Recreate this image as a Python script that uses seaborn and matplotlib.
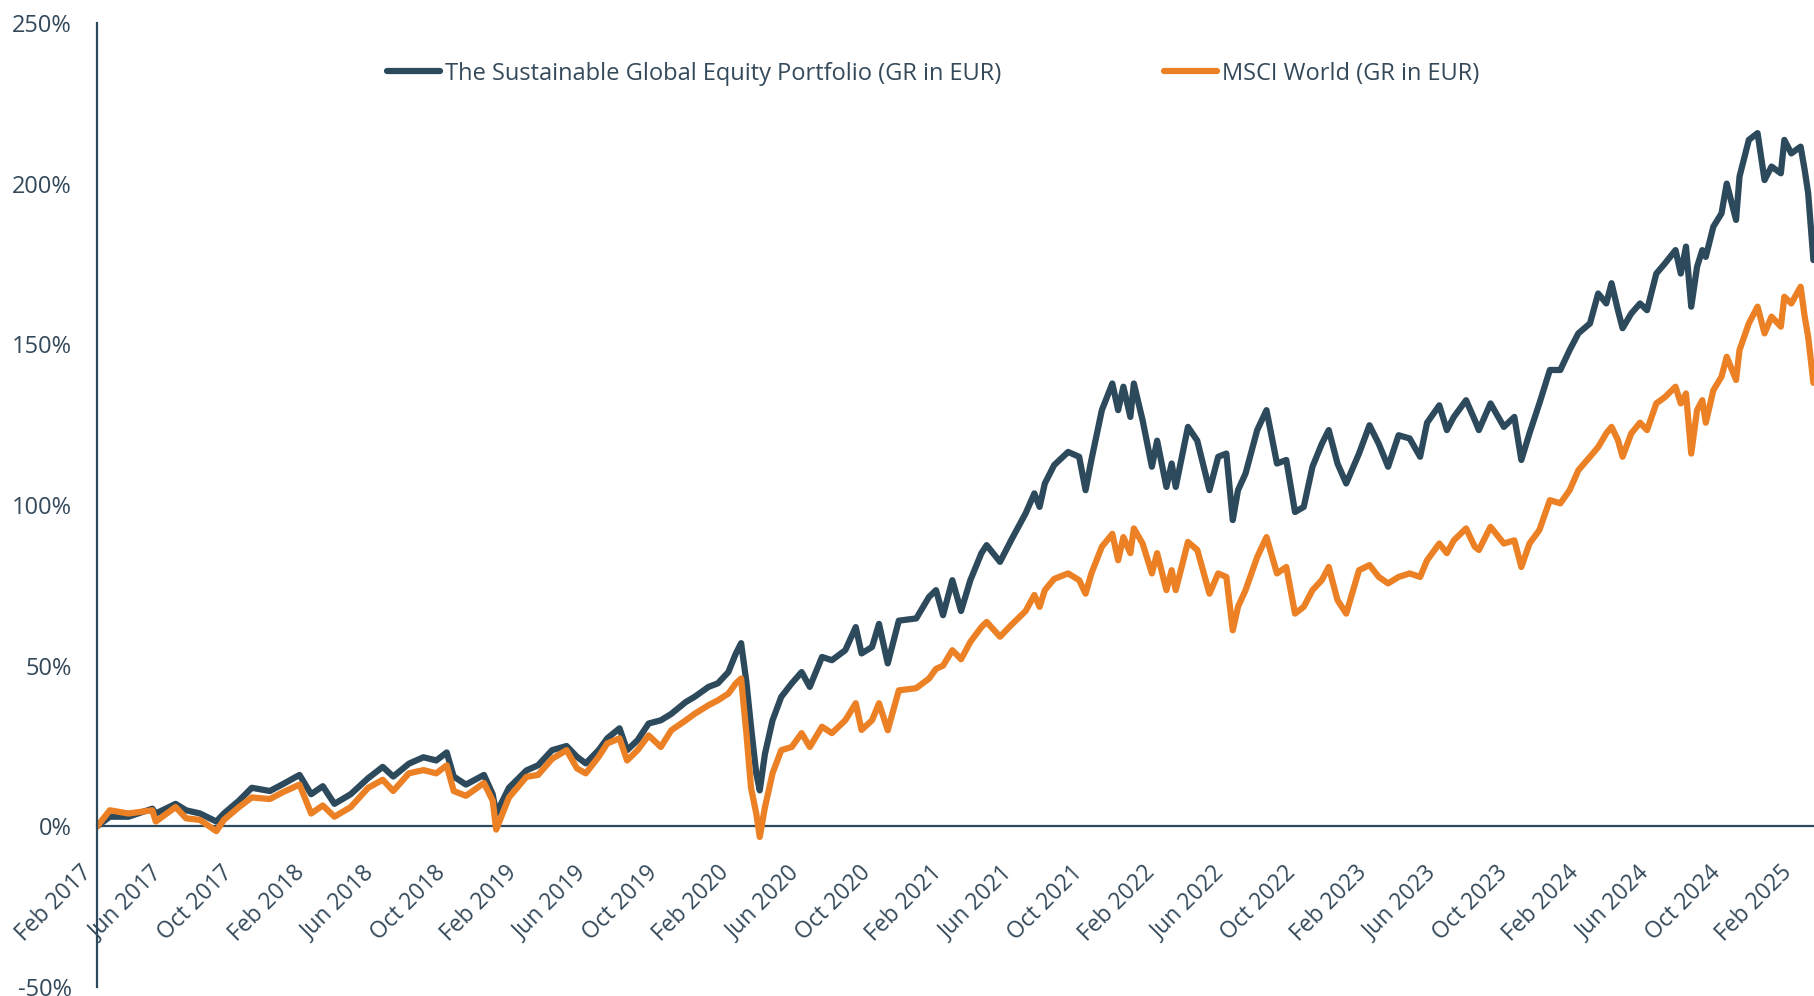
#---IMPORT SECTION---
import pandas as pd
import matplotlib
matplotlib.use("Agg")
import matplotlib.pyplot as plt
from matplotlib.lines import Line2D
from matplotlib.ticker import FuncFormatter
import seaborn as sns
#---END OF IMPORT SECTION---

#Data (cumulative return in %)
dates = [
    "2017-02-01", "2017-02-23", "2017-03-27", "2017-05-07", "2017-05-13", "2017-06-16", "2017-07-04", "2017-07-28", "2017-08-25", "2017-09-07",
    "2017-10-03", "2017-10-25", "2017-11-25", "2017-12-16", "2018-01-15", "2018-02-04", "2018-02-24", "2018-03-16", "2018-04-13", "2018-05-13",
    "2018-06-07", "2018-06-25", "2018-07-22", "2018-08-16", "2018-09-07", "2018-09-25", "2018-10-07", "2018-10-28", "2018-11-28", "2018-12-13",
    "2018-12-19",
    "2019-01-10", "2019-02-09", "2019-03-01", "2019-03-25", "2019-04-19", "2019-05-07", "2019-05-22", "2019-06-13", "2019-06-28", "2019-07-19",
    "2019-08-01", "2019-08-19", "2019-09-07", "2019-09-28", "2019-10-16", "2019-11-10", "2019-11-25", "2019-12-19", "2020-01-04", "2020-01-22",
    "2020-02-04", "2020-02-13", "2020-02-22", "2020-03-01", "2020-03-10", "2020-03-16", "2020-03-25", "2020-04-07", "2020-04-22", "2020-05-10",
    "2020-05-27", "2020-06-10", "2020-07-01", "2020-07-18", "2020-08-10", "2020-08-28", "2020-09-07", "2020-09-25", "2020-10-07", "2020-10-22",
    "2020-11-10",
    "2020-12-10", "2021-01-01", "2021-01-13", "2021-01-25", "2021-02-10", "2021-02-25", "2021-03-13", "2021-04-01", "2021-04-10", "2021-05-03",
    "2021-05-22", "2021-06-16", "2021-07-01", "2021-07-10", "2021-07-19", "2021-08-04", "2021-08-28", "2021-09-16", "2021-09-27", "2021-10-07",
    "2021-10-25", "2021-11-12", "2021-11-22", "2021-12-01", "2021-12-13", "2021-12-19", "2022-01-03", "2022-01-19", "2022-01-28", "2022-02-13",
    "2022-02-22", "2022-03-01", "2022-03-22", "2022-04-07", "2022-04-28", "2022-05-13", "2022-05-27", "2022-06-07", "2022-06-16", "2022-06-29",
    "2022-07-19", "2022-08-04", "2022-08-22", "2022-09-07", "2022-09-22", "2022-10-07", "2022-10-22", "2022-11-07", "2022-11-19", "2022-12-04",
    "2022-12-19",
    "2023-01-10", "2023-01-28", "2023-02-13", "2023-03-01", "2023-03-19", "2023-04-07", "2023-04-25", "2023-05-07", "2023-05-28", "2023-06-10",
    "2023-06-22", "2023-07-13", "2023-07-28", "2023-08-04", "2023-08-24", "2023-09-16", "2023-10-04", "2023-10-16", "2023-10-30", "2023-11-16",
    "2023-12-04", "2023-12-22", "2024-01-07", "2024-01-22", "2024-02-11", "2024-02-25", "2024-03-10", "2024-03-19", "2024-03-30", "2024-04-07",
    "2024-04-22", "2024-05-07", "2024-05-19", "2024-06-04", "2024-06-19", "2024-07-07", "2024-07-16", "2024-07-25", "2024-08-03", "2024-08-13",
    "2024-08-22", "2024-08-28", "2024-09-10", "2024-09-24", "2024-10-03", "2024-10-19", "2024-10-25", "2024-11-10", "2024-11-25", "2024-12-07",
    "2024-12-19", "2025-01-04", "2025-01-10", "2025-01-22", "2025-02-07", "2025-02-14", "2025-02-20", "2025-03-01",
]

portfolio = [
    0, 3, 3, 5.5, 4, 7, 5, 4, 1.5, 4,
    8, 12, 11, 13, 16, 10, 12.5, 7, 10, 15,
    18.5, 15.5, 19.5, 21.5, 20.5, 23, 15.5, 13, 16, 10,
    4,
    12, 17.4, 19, 23.7, 25, 21.6, 19.6, 23.7, 27.4, 30.5,
    23.7, 26.8, 32, 33, 35, 38.7, 40.3, 43.4, 44.5, 48,
    53.8, 57, 45, 31, 16.5, 11.2, 22.6, 33, 40.3, 44.5,
    48, 43.4, 52.7, 51.7, 54.8, 62, 53.8, 55.8, 63, 50.7,
    64,
    64.7, 71.4, 73.5, 65.7, 76.6, 67, 76.6, 85, 87.5, 82.3,
    89, 97.4, 103.6, 99.4, 106.7, 112.4, 116.5, 115, 104.6, 114,
    129.5, 137.8, 129.5, 136.8, 127.4, 137.8, 126.4, 111.9, 120, 105.6,
    112.9, 105.6, 124.3, 120, 104.6, 115, 116, 95.3, 104.6, 109.8,
    123.3, 129.5, 112.9, 114, 97.8, 99.4, 111.9, 119, 123.3, 112.9,
    106.7,
    116, 124.8, 119, 111.9, 121.7, 120.7, 115, 125.6, 131, 123.3,
    127.4, 132.6, 126.4, 123.3, 131.6, 124.3, 127.4, 114, 122.3, 131.6,
    142, 142, 148.2, 153.4, 156.5, 165.8, 162.7, 169, 160.6, 155,
    159.6, 162.7, 160.6, 172, 175.2, 179.3, 172, 180.4, 161.7, 174.1,
    179.3, 177.2, 186.6, 190.7, 200, 188.7, 202.2, 213.6, 215.7, 201.1,
    205.3, 203.2, 213.6, 209.4, 211.5, 204.2, 197, 176.2,
]

msci = [
    0, 5, 4, 5, 1.5, 6, 2.5, 2, -1.5, 2,
    6, 9, 8.5, 10.5, 13, 4, 6.5, 3, 6, 12,
    14.5, 11, 16.5, 17.5, 16.5, 19, 11, 9.5, 13.5, 8,
    -1,
    9, 15.4, 16, 21, 23.7, 18, 16.5, 21.6, 25.8, 27.4,
    20.5, 23.7, 28.3, 24.7, 29.9, 33, 35, 37.7, 39.2, 41.3,
    44.5, 46, 29, 12, 4, -3.3, 6, 16.5, 23.7, 24.7,
    29, 24.7, 31, 29, 33, 38.3, 30, 33, 38.3, 29.9,
    42.3,
    43, 46, 49, 50, 54.8, 52, 57.4, 62, 63.6, 59,
    62.6, 67, 72, 68.3, 73.5, 77, 78.7, 76.6, 72.4, 78.7,
    87, 91, 82.8, 90, 85, 92.7, 88, 78.7, 85, 73.5,
    79.7, 73.5, 88.5, 86, 72.4, 78.7, 77.6, 61, 68.3, 73.5,
    83.8, 90, 78.7, 80.7, 66.2, 68.3, 73.5, 76.6, 80.7, 70.4,
    66.2,
    79.7, 81.3, 77.6, 75.6, 77.6, 78.7, 77.6, 82.8, 88, 85,
    89, 92.7, 87, 86, 93.2, 88, 89, 80.7, 88, 92.2,
    101.5, 100.5, 104.6, 110.8, 115, 118, 122.3, 124.3, 120.2, 115,
    122.3, 125.6, 123.3, 131.6, 133.6, 136.8, 131.6, 134.7, 116, 129.5,
    132.6, 125.6, 135.7, 139.9, 146.1, 138.9, 148.2, 156.5, 161.7, 153.4,
    158.6, 155.5, 164.8, 162.7, 167.9, 158.6, 152.3, 138,
]

series_names = ["The Sustainable Global Equity Portfolio (GR in EUR)", "MSCI World (GR in EUR)"]
y_ticks = [-50, 0, 50, 100, 150, 200, 250]
x_ticks = pd.date_range("2017-02-01", "2025-02-01", freq="4MS")

#Colours
DARK = "#2c4a5c"
ORANGE = "#ec8025"
TEXT = "#34495a"

#Build long table for seaborn
df = pd.DataFrame({"date": pd.to_datetime(dates), series_names[0]: portfolio, series_names[1]: msci})
long_df = df.melt(id_vars="date", var_name="series", value_name="value")

#Style
sns.set_style("white")
plt.rcParams["font.family"] = ["Open Sans", "DejaVu Sans"]
plt.rcParams["lines.solid_joinstyle"] = "round"
plt.rcParams["lines.solid_capstyle"] = "round"

fig = plt.figure(figsize=(18.14, 9.96), dpi=100)
ax = fig.add_axes([0.0535, 0.009, 0.9465, 0.968])

sns.lineplot(data=long_df, x="date", y="value", hue="series", hue_order=series_names,
             palette=[DARK, ORANGE], linewidth=4.5, ax=ax, legend=False)

#Spines first (moving a spine resets the ticks): left axis full height, x axis at 0%
ax.spines["top"].set_visible(False)
ax.spines["right"].set_visible(False)
ax.spines["bottom"].set_position(("data", 0))
ax.spines["bottom"].set_color(DARK)
ax.spines["bottom"].set_linewidth(1.6)
ax.spines["left"].set_color(DARK)
ax.spines["left"].set_linewidth(1.6)
ax.spines["bottom"].set_zorder(1)
ax.grid(False)

#Axes limits and ticks
ax.set_xlim(pd.Timestamp("2017-02-01"), pd.Timestamp("2025-03-02"))
ax.set_ylim(-50, 250)
ax.set_yticks(y_ticks)
ax.yaxis.set_major_formatter(FuncFormatter(lambda v, p: f"{int(v)}%"))
ax.set_xticks(x_ticks)
ax.set_xlabel("")
ax.set_ylabel("")

ax.tick_params(axis="y", length=0, labelsize=17, labelcolor=TEXT, pad=18)
ax.tick_params(axis="x", length=0, labelsize=16.5, labelcolor=TEXT, pad=25)
ax.set_xticklabels([d.strftime("%b %Y") for d in x_ticks], rotation=45, ha="right")
for lbl in ax.get_yticklabels():
    lbl.set_va("center_baseline")

#Legend
handles = [Line2D([], [], color=DARK, lw=4.5, solid_capstyle="round"),
           Line2D([], [], color=ORANGE, lw=4.5, solid_capstyle="round")]
leg = fig.legend(handles, series_names, loc="center left", bbox_to_anchor=(0.2133, 0.926),
                 ncol=2, frameon=False, fontsize=17, handlelength=2.25, handletextpad=0.2,
                 columnspacing=6.9, borderpad=0, borderaxespad=0)
for t in leg.get_texts():
    t.set_color(TEXT)

fig.savefig("out.png", dpi=100)
